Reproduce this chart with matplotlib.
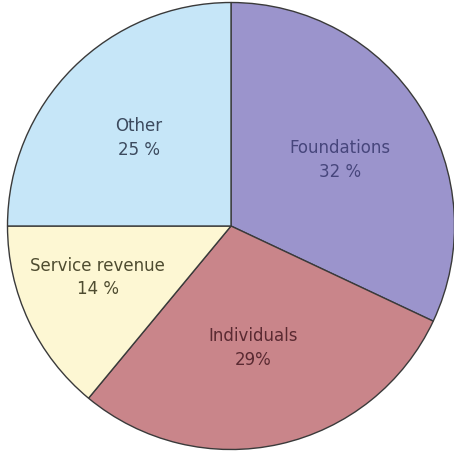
import matplotlib
matplotlib.use("Agg")
import matplotlib.pyplot as plt
import numpy as np

categories = ["Foundations", "Individuals", "Service revenue", "Other"]
values = [32, 29, 14, 25]
pct_formats = ["{} %", "{}%", "{} %", "{} %"]

colors = ["#9b94cc", "#c9858a", "#fdf7d3", "#c6e6f8"]
text_colors = ["#47467c", "#5a2a32", "#4e4c30", "#3c4a5e"]
label_dist = [0.57, 0.555, 0.64, 0.57]
label_ang_offset = [-1.2, -2.4, -4.0, 1.3]

W, H = 454, 455
fig = plt.figure(figsize=(W / 100, H / 100), dpi=100)
ax = fig.add_axes([0, 0, 1, 1])
cx, cy, r = 231, 226, 223.5

wedges, _ = ax.pie(values, colors=colors, startangle=90, counterclock=False,
                   radius=1.0, wedgeprops=dict(edgecolor="#3a3a3a", linewidth=1.0))

for w, cat, v, fmt, tc, d, off in zip(wedges, categories, values, pct_formats,
                                      text_colors, label_dist, label_ang_offset):
    ang = np.deg2rad((w.theta1 + w.theta2) / 2 + off)
    ax.text(d * np.cos(ang), d * np.sin(ang), cat + "\n" + fmt.format(v),
            ha="center", va="center", fontsize=12, color=tc,
            linespacing=1.38, family="DejaVu Sans")

ax.set_aspect("auto")
ax.set_xlim(-cx / r, (W - cx) / r)
ax.set_ylim(-(H - cy) / r, cy / r)
ax.axis("off")

fig.savefig("out.png", dpi=100)
